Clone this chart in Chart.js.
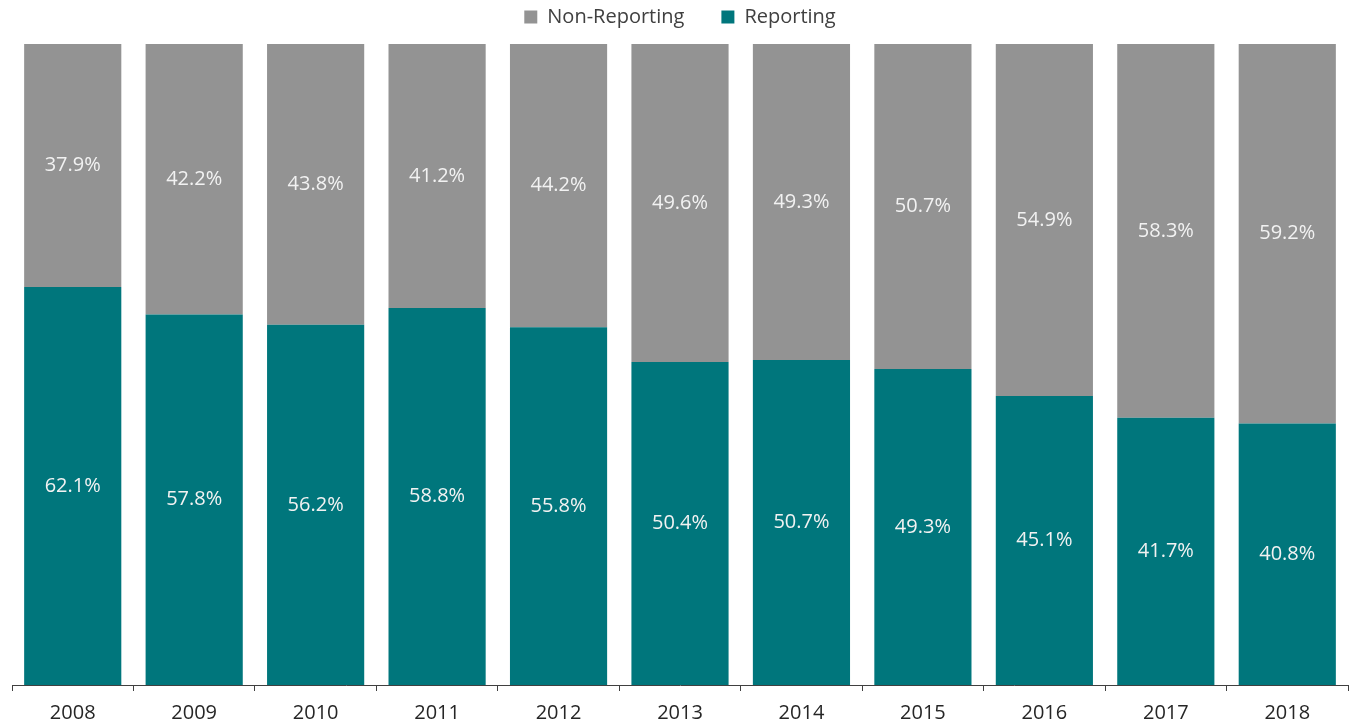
<!DOCTYPE html>
<html>
<head>
<meta charset="utf-8">
<script src="https://cdn.jsdelivr.net/npm/chart.js@4"></script>
<style>
html,body{margin:0;padding:0;background:#fff;}
#wrap{width:1351px;height:725px;}
</style>
</head>
<body>
<div id="wrap"><canvas id="c" width="1351" height="725"></canvas></div>
<script>
const categories = ['2008','2009','2010','2011','2012','2013','2014','2015','2016','2017','2018'];
const reporting = [62.1,57.8,56.2,58.8,55.8,50.4,50.7,49.3,45.1,41.7,40.8];
const nonReporting = [37.9,42.2,43.8,41.2,44.2,49.6,49.3,50.7,54.9,58.3,59.2];

const labelPlugin = {
  id: 'segLabels',
  afterDatasetsDraw(chart) {
    const ctx = chart.ctx;
    ctx.save();
    ctx.font = '20px "Open Sans", sans-serif';
    ctx.fillStyle = '#f2f2f2';
    ctx.textAlign = 'center';
    ctx.textBaseline = 'middle';
    chart.data.datasets.forEach((ds, di) => {
      const meta = chart.getDatasetMeta(di);
      meta.data.forEach((el, i) => {
        const y = (el.y + el.base) / 2;
        ctx.fillText(ds.data[i].toFixed(1) + '%', el.x, y);
      });
    });
    ctx.restore();
  }
};

const legendGap = {
  id: 'legendGap',
  afterInit(chart) {
    const lg = chart.legend;
    if (lg && !lg._wrapped) {
      const orig = lg.fit.bind(lg);
      lg.fit = function() { orig(); this.height += 7; };
      lg._wrapped = true;
    }
  }
};

new Chart(document.getElementById('c'), {
  type: 'bar',
  data: {
    labels: categories,
    datasets: [
      { label: 'Reporting', data: reporting, backgroundColor: '#00767C', categoryPercentage: 0.8, barPercentage: 1.0 },
      { label: 'Non-Reporting', data: nonReporting, backgroundColor: '#939393', categoryPercentage: 0.8, barPercentage: 1.0 }
    ]
  },
  options: {
    responsive: false,
    animation: false,
    layout: { padding: { left: 12, right: 3, top: 0, bottom: -10 } },
    plugins: {
      legend: {
        position: 'top',
        reverse: true,
        labels: {
          boxWidth: 13, boxHeight: 13, padding: 7,
          color: '#404040',
          font: { size: 20, family: '"Open Sans", sans-serif' },
          generateLabels(chart) {
            const items = Chart.defaults.plugins.legend.labels.generateLabels(chart);
            items.forEach(it => { if (it.text === 'Non-Reporting') it.text = it.text + '\u2003\u2002'; });
            return items;
          }
        }
      },
      tooltip: { enabled: false }
    },
    scales: {
      x: {
        stacked: true,
        offset: true,
        grid: { offset: true, drawOnChartArea: false, drawTicks: true, tickLength: 6, color: '#404040' },
        border: { display: true, color: '#404040', width: 1 },
        ticks: { color: '#262626', font: { size: 20, family: '"Open Sans", sans-serif' }, padding: 10, maxRotation: 0 }
      },
      y: {
        stacked: true,
        display: false,
        min: 0, max: 100
      }
    }
  },
  plugins: [labelPlugin, legendGap]
});
</script>
</body>
</html>
